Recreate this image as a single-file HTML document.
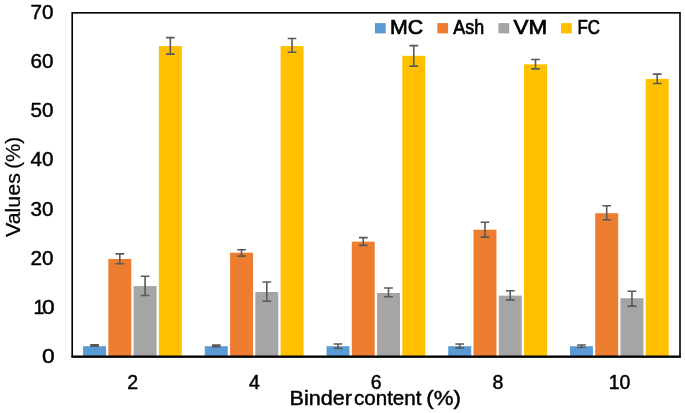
<!DOCTYPE html>
<html><head><meta charset="utf-8"><title>chart</title>
<style>
html,body{margin:0;padding:0;background:#fff;}
body{width:685px;height:413px;overflow:hidden;}
svg{display:block;will-change:transform;}
text{font-family:"Liberation Sans",sans-serif;fill:#000;stroke:#000;stroke-width:0.45px;}
</style></head><body>
<svg width="685" height="413" viewBox="0 0 685 413">
<rect x="0" y="0" width="685" height="413" fill="#ffffff"/>

<rect x="83.08" y="346.20" width="22.96" height="10.30" fill="#5B9BD5"/>
<rect x="108.34" y="259.00" width="22.96" height="97.50" fill="#ED7D31"/>
<rect x="133.60" y="286.10" width="22.96" height="70.40" fill="#A5A5A5"/>
<rect x="158.86" y="46.00" width="22.96" height="310.50" fill="#FFC000"/>
<path d="M94.56 344.90V346.20M90.21 344.90H98.91M90.21 346.20H98.91" stroke="#595959" stroke-width="1.6" fill="none"/>
<path d="M119.82 253.90V263.70M115.47 253.90H124.17M115.47 263.70H124.17" stroke="#595959" stroke-width="1.6" fill="none"/>
<path d="M145.08 276.30V295.50M140.73 276.30H149.43M140.73 295.50H149.43" stroke="#595959" stroke-width="1.6" fill="none"/>
<path d="M170.34 37.60V54.10M165.99 37.60H174.69M165.99 54.10H174.69" stroke="#595959" stroke-width="1.6" fill="none"/>
<rect x="204.80" y="346.20" width="22.96" height="10.30" fill="#5B9BD5"/>
<rect x="230.06" y="252.70" width="22.96" height="103.80" fill="#ED7D31"/>
<rect x="255.32" y="292.00" width="22.96" height="64.50" fill="#A5A5A5"/>
<rect x="280.58" y="46.00" width="22.96" height="310.50" fill="#FFC000"/>
<path d="M216.28 345.00V346.60M211.93 345.00H220.63M211.93 346.60H220.63" stroke="#595959" stroke-width="1.6" fill="none"/>
<path d="M241.54 249.80V256.10M237.19 249.80H245.89M237.19 256.10H245.89" stroke="#595959" stroke-width="1.6" fill="none"/>
<path d="M266.80 282.00V301.20M262.45 282.00H271.15M262.45 301.20H271.15" stroke="#595959" stroke-width="1.6" fill="none"/>
<path d="M292.06 38.50V52.30M287.71 38.50H296.41M287.71 52.30H296.41" stroke="#595959" stroke-width="1.6" fill="none"/>
<rect x="326.52" y="346.20" width="22.96" height="10.30" fill="#5B9BD5"/>
<rect x="351.78" y="241.65" width="22.96" height="114.85" fill="#ED7D31"/>
<rect x="377.04" y="293.00" width="22.96" height="63.50" fill="#A5A5A5"/>
<rect x="402.30" y="55.80" width="22.96" height="300.70" fill="#FFC000"/>
<path d="M338.00 344.00V348.40M333.65 344.00H342.35M333.65 348.40H342.35" stroke="#595959" stroke-width="1.6" fill="none"/>
<path d="M363.26 237.60V245.40M358.91 237.60H367.61M358.91 245.40H367.61" stroke="#595959" stroke-width="1.6" fill="none"/>
<path d="M388.52 288.00V296.80M384.17 288.00H392.87M384.17 296.80H392.87" stroke="#595959" stroke-width="1.6" fill="none"/>
<path d="M413.78 45.60V66.10M409.43 45.60H418.13M409.43 66.10H418.13" stroke="#595959" stroke-width="1.6" fill="none"/>
<rect x="448.24" y="346.20" width="22.96" height="10.30" fill="#5B9BD5"/>
<rect x="473.50" y="229.70" width="22.96" height="126.80" fill="#ED7D31"/>
<rect x="498.76" y="295.60" width="22.96" height="60.90" fill="#A5A5A5"/>
<rect x="524.02" y="64.30" width="22.96" height="292.20" fill="#FFC000"/>
<path d="M459.72 344.00V347.90M455.37 344.00H464.07M455.37 347.90H464.07" stroke="#595959" stroke-width="1.6" fill="none"/>
<path d="M484.98 222.30V237.10M480.63 222.30H489.33M480.63 237.10H489.33" stroke="#595959" stroke-width="1.6" fill="none"/>
<path d="M510.24 290.80V299.90M505.89 290.80H514.59M505.89 299.90H514.59" stroke="#595959" stroke-width="1.6" fill="none"/>
<path d="M535.50 59.50V68.90M531.15 59.50H539.85M531.15 68.90H539.85" stroke="#595959" stroke-width="1.6" fill="none"/>
<rect x="569.96" y="346.20" width="22.96" height="10.30" fill="#5B9BD5"/>
<rect x="595.22" y="213.20" width="22.96" height="143.30" fill="#ED7D31"/>
<rect x="620.48" y="298.20" width="22.96" height="58.30" fill="#A5A5A5"/>
<rect x="645.74" y="78.90" width="22.96" height="277.60" fill="#FFC000"/>
<path d="M581.44 345.00V347.50M577.09 345.00H585.79M577.09 347.50H585.79" stroke="#595959" stroke-width="1.6" fill="none"/>
<path d="M606.70 205.70V219.70M602.35 205.70H611.05M602.35 219.70H611.05" stroke="#595959" stroke-width="1.6" fill="none"/>
<path d="M631.96 291.30V306.10M627.61 291.30H636.31M627.61 306.10H636.31" stroke="#595959" stroke-width="1.6" fill="none"/>
<path d="M657.22 74.10V83.55M652.87 74.10H661.57M652.87 83.55H661.57" stroke="#595959" stroke-width="1.6" fill="none"/>
<rect x="72.2" y="12.85" width="607.8" height="343.65" fill="none" stroke="#000" stroke-width="1.6"/>
<rect x="71.4" y="355.7" width="609.4" height="2.1" fill="#000"/>
<text x="41.9" y="363.35" font-size="19.5" textLength="12.7" lengthAdjust="spacingAndGlyphs">0</text>
<text x="33.4" y="314.09" font-size="19.5">1</text>
<text x="41.9" y="314.09" font-size="19.5" textLength="12.7" lengthAdjust="spacingAndGlyphs">0</text>
<text x="30.6" y="264.82" font-size="19.5" textLength="23.0" lengthAdjust="spacingAndGlyphs">20</text>
<text x="30.6" y="215.56" font-size="19.5" textLength="23.0" lengthAdjust="spacingAndGlyphs">30</text>
<text x="30.6" y="166.29" font-size="19.5" textLength="23.0" lengthAdjust="spacingAndGlyphs">40</text>
<text x="30.6" y="117.03" font-size="19.5" textLength="23.0" lengthAdjust="spacingAndGlyphs">50</text>
<text x="30.6" y="67.76" font-size="19.5" textLength="23.0" lengthAdjust="spacingAndGlyphs">60</text>
<text x="30.6" y="18.50" font-size="19.5" textLength="23.0" lengthAdjust="spacingAndGlyphs">70</text>
<text x="132.75" y="389" font-size="19.5" text-anchor="middle">2</text>
<text x="254.47" y="389" font-size="19.5" text-anchor="middle">4</text>
<text x="376.19" y="389" font-size="19.5" text-anchor="middle">6</text>
<text x="497.91" y="389" font-size="19.5" text-anchor="middle">8</text>
<text x="619.63" y="389" font-size="19.5" text-anchor="middle">10</text>
<text x="289.6" y="404.6" font-size="20.4" textLength="62.4" lengthAdjust="spacingAndGlyphs">Binder</text>
<text x="354.0" y="404.6" font-size="20.4" textLength="67.4" lengthAdjust="spacingAndGlyphs">content</text>
<text x="426.3" y="404.6" font-size="20.4" textLength="34.6" lengthAdjust="spacingAndGlyphs">(%)</text>
<text transform="translate(19.7,237.0) rotate(-90)" font-size="19.6" style="stroke-width:0.25px" textLength="63.85" lengthAdjust="spacingAndGlyphs">Values</text>
<text transform="translate(19.7,168.8) rotate(-90)" font-size="19.6" style="stroke-width:0.25px" textLength="32.0" lengthAdjust="spacingAndGlyphs">(%)</text>
<rect x="374.9" y="23.1" width="10.8" height="10.3" fill="#5B9BD5"/>
<text x="389.9" y="33.5" font-size="20" style="stroke-width:0.7px" textLength="33.2" lengthAdjust="spacingAndGlyphs">MC</text>
<rect x="437.3" y="23.1" width="10.8" height="10.3" fill="#ED7D31"/>
<text x="453.3" y="33.5" font-size="20" style="stroke-width:0.7px" textLength="30.8" lengthAdjust="spacingAndGlyphs">Ash</text>
<rect x="498.4" y="23.1" width="10.8" height="10.3" fill="#A5A5A5"/>
<text x="513.6" y="33.5" font-size="20" style="stroke-width:0.7px" textLength="33.6" lengthAdjust="spacingAndGlyphs">VM</text>
<rect x="561.0" y="23.1" width="10.8" height="10.3" fill="#FFC000"/>
<text x="577.5" y="33.5" font-size="20" style="stroke-width:0.7px" textLength="22.5" lengthAdjust="spacingAndGlyphs">FC</text>
</svg></body></html>
